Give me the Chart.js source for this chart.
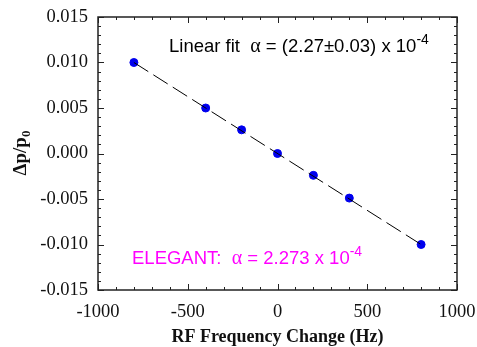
<!DOCTYPE html>
<html>
<head>
<meta charset="utf-8">
<script src="https://cdn.jsdelivr.net/npm/chart.js@4"></script>
<style>
    html, body { margin: 0; padding: 0; background: #fff; }
    #wrap { width: 477px; height: 347px; }
</style>
</head>
<body>
<div id="wrap"><canvas id="chart" width="477" height="347"></canvas></div>
<script>
// measured points (RF frequency change in Hz vs dp/p0)
const freqHz = [-800, -400, -200, 0, 200, 400, 800];
const dpOverP = [0.0100, 0.0050, 0.0026, 0.0000, -0.0024, -0.0049, -0.0100];

// linear fit end points
const fitHz = [-800, 800];
const fitDp = [0.0100, -0.0100];

const xTicks = [-1000, -500, 0, 500, 1000];
const yTicks = [-0.015, -0.010, -0.005, 0.000, 0.005, 0.010, 0.015];

const xTitle = `RF Frequency Change (Hz)`;
const fitLabel = [`Linear fit  `, `α`, ` = (2.27±0.03) x 10`, `-4`];
const elegantLabel = [`ELEGANT:  `, `α`, ` = 2.273 x 10`, `-4`];

const serif = `"Liberation Serif", "Times New Roman", serif`;
const sans = `"Liberation Sans", Arial, sans-serif`;

// inside ticks, frame and text
const framePlugin = {
    id: `frame`,
    afterDatasetsDraw(chart) {
        const ctx = chart.ctx;
        const a = chart.chartArea;
        const xs = chart.scales.x;
        const ys = chart.scales.y;
        ctx.save();
        ctx.strokeStyle = `#222`;
        ctx.lineWidth = 1;

        for (let v = -1000; v <= 1000; v += 100) {
            const px = Math.round(xs.getPixelForValue(v)) + 0.5;
            const len = v % 500 === 0 ? 6 : 3;
            ctx.beginPath();
            ctx.moveTo(px, a.bottom);
            ctx.lineTo(px, a.bottom - len);
            ctx.moveTo(px, a.top);
            ctx.lineTo(px, a.top + len);
            ctx.stroke();
        }
        for (let i = -15; i <= 15; i++) {
            const py = Math.round(ys.getPixelForValue(i / 1000)) + 0.5;
            const len = i % 5 === 0 ? 6 : 3;
            ctx.beginPath();
            ctx.moveTo(a.left, py);
            ctx.lineTo(a.left + len, py);
            ctx.moveTo(a.right, py);
            ctx.lineTo(a.right - len, py);
            ctx.stroke();
        }

        ctx.lineWidth = 1.5;
        ctx.strokeRect(a.left, a.top, a.right - a.left, a.bottom - a.top);

        // x title
        ctx.fillStyle = `#111`;
        ctx.font = `bold 18px ${serif}`;
        ctx.textAlign = `center`;
        ctx.textBaseline = `alphabetic`;
        ctx.fillText(xTitle, (a.left + a.right) / 2, 342);

        // y title with subscript
        ctx.save();
        ctx.translate(26, 153);
        ctx.rotate(-Math.PI / 2);
        ctx.textAlign = `left`;
        const main = `Δp/p`;
        ctx.font = `bold 13px ${serif}`;
        const subW = ctx.measureText(`0`).width;
        ctx.font = `bold 19px ${serif}`;
        const mainW = ctx.measureText(main).width;
        const start = -(mainW + subW) / 2;
        ctx.fillText(main, start, 0);
        ctx.font = `bold 13px ${serif}`;
        ctx.fillText(`0`, start + mainW, 4);
        ctx.restore();

        drawLabel(ctx, fitLabel, 169, 52, `#000`);
        drawLabel(ctx, elegantLabel, 132, 264, `#ff00ff`);
        ctx.restore();
    }
};

function drawLabel(ctx, parts, x, y, color) {
    ctx.fillStyle = color;
    ctx.textAlign = `left`;
    ctx.textBaseline = `alphabetic`;
    const fonts = [`18.5px ${sans}`, `20px ${serif}`, `18.5px ${sans}`, `14px ${sans}`];
    const lift = [0, 0, 0, -8];
    parts.forEach((text, i) => {
        ctx.font = fonts[i];
        ctx.fillText(text, x, y + lift[i]);
        x += ctx.measureText(text).width;
    });
}

const ctx = document.querySelector(`#chart`).getContext(`2d`);
const myChart = new Chart(ctx, {
    type: `scatter`,
    data: {
        datasets: [
            {
                label: `fit`,
                type: `line`,
                data: fitHz.map((x, i) => ({ x, y: fitDp[i] })),
                borderColor: `#000`,
                borderWidth: 1,
                borderDash: [17, 6],
                pointRadius: 0,
                fill: false,
            },
            {
                label: `data`,
                data: freqHz.map((x, i) => ({ x, y: dpOverP[i] })),
                backgroundColor: `#0000ee`,
                borderColor: `#0000ee`,
                pointRadius: 4,
            },
        ],
    },
    options: {
        responsive: false,
        animation: false,
        layout: { padding: { left: 0, top: 17, right: 20, bottom: 0 } },
        plugins: {
            legend: { display: false },
            tooltip: { enabled: false }
        },
        scales: {
            x: {
                type: `linear`,
                min: -1000,
                max: 1000,
                afterFit: scale => {
                    scale.height = 57;
                    scale.paddingLeft = 0;
                    scale.paddingRight = 0;
                },
                afterBuildTicks: scale => { scale.ticks = xTicks.map(value => ({ value })); },
                grid: { display: false, drawTicks: false },
                border: { display: false },
                ticks: {
                    padding: 11,
                    color: `#111`,
                    font: { family: serif, size: 18.5 },
                    callback: v => String(v)
                }
            },
            y: {
                type: `linear`,
                min: -0.015,
                max: 0.015,
                afterFit: scale => {
                    scale.width = 98;
                    scale.paddingTop = 0;
                    scale.paddingBottom = 0;
                },
                afterBuildTicks: scale => { scale.ticks = yTicks.map(value => ({ value })); },
                grid: { display: false, drawTicks: false },
                border: { display: false },
                ticks: {
                    padding: 10,
                    color: `#111`,
                    font: { family: serif, size: 18.5 },
                    callback: v => v.toFixed(3)
                }
            }
        }
    },
    plugins: [framePlugin]
});
</script>
</body>
</html>
